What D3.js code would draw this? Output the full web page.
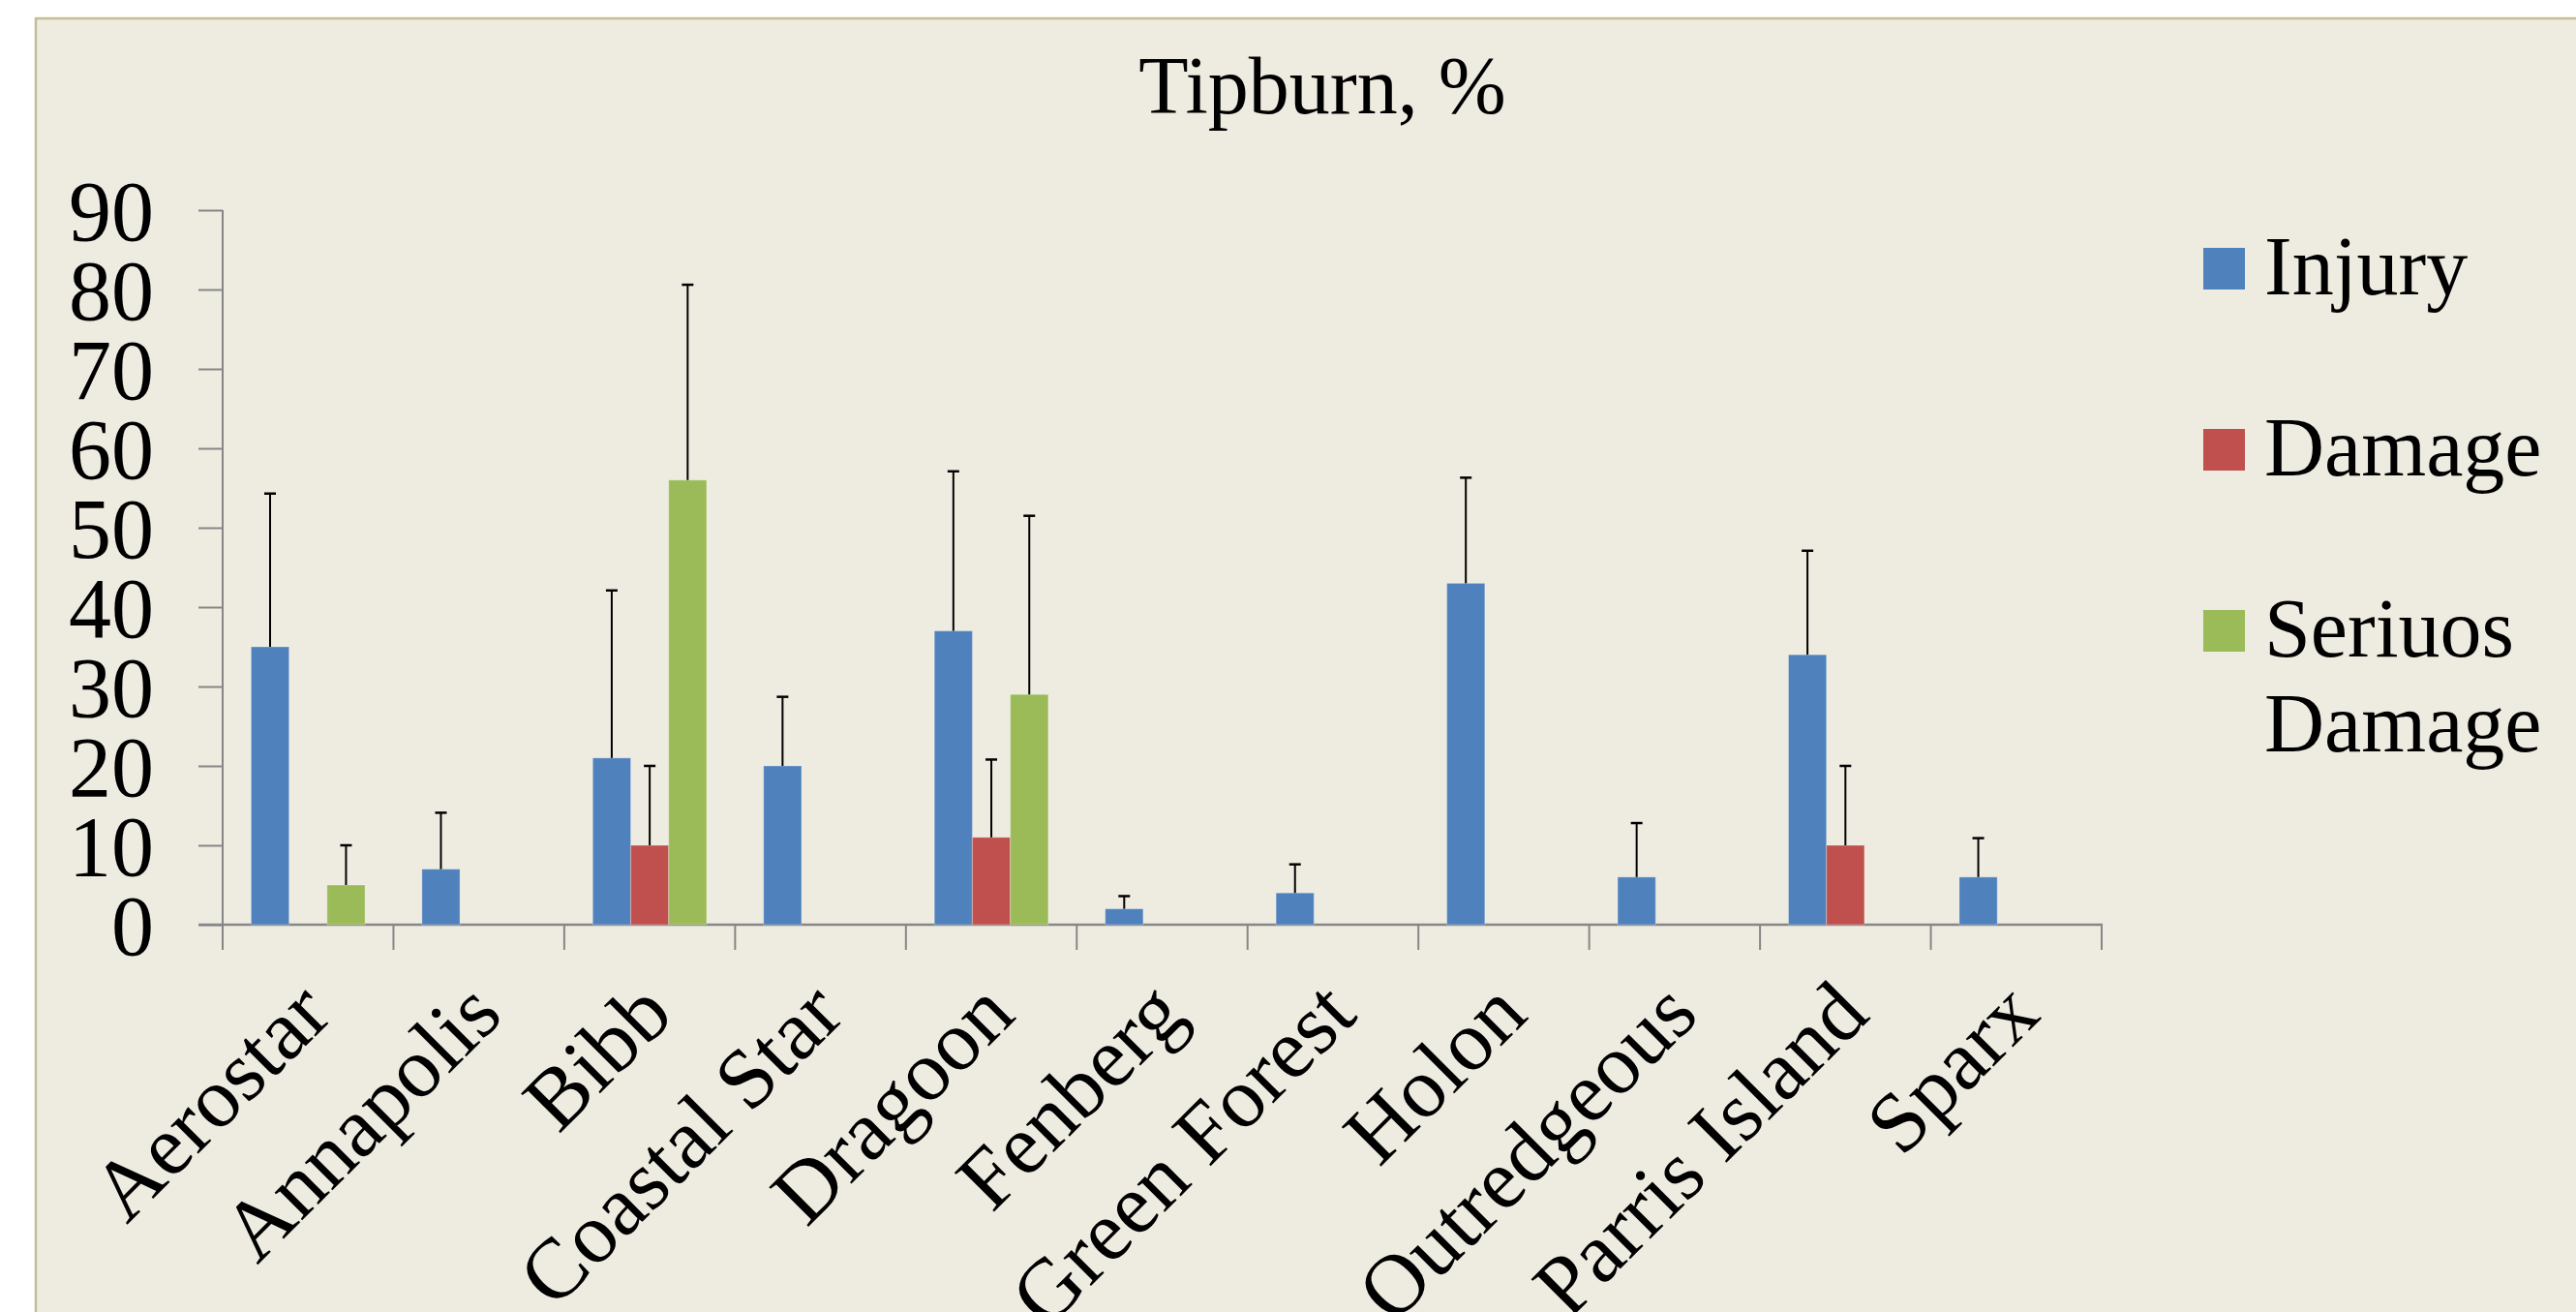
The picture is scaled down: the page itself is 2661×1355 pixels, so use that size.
<!DOCTYPE html>
<html>
<head>
<meta charset="utf-8">
<script src="https://cdn.jsdelivr.net/npm/d3@7"></script>
<style>
  html, body { margin: 0; padding: 0; background: #ffffff; }
  svg { display: block; }
  text { font-family: "Liberation Serif", "Times New Roman", "DejaVu Serif", serif; fill: #000; }
</style>
</head>
<body>
<svg id="chart" width="2661" height="1355"></svg>
<script>
// ---- data ----
const categories = ["Aerostar", "Annapolis", "Bibb", "Coastal Star", "Dragoon", "Fenberg",
                    "Green Forest", "Holon", "Outredgeous", "Parris Island", "Sparx"];
const seriesNames = ["Injury", "Damage", "Seriuos Damage"];
const injury      = [35, 7, 21, 20, 37, 2, 4, 43, 6, 34, 6];
const injuryErr   = [19.3, 7.1, 21.1, 8.7, 20.1, 1.6, 3.6, 13.3, 6.8, 13.1, 4.9];
const damage      = [0, 0, 10, 0, 11, 0, 0, 0, 0, 10, 0];
const damageErr   = [0, 0, 10, 0, 9.8, 0, 0, 0, 0, 10, 0];
const serious     = [5, 0, 56, 0, 29, 0, 0, 0, 0, 0, 0];
const seriousErr  = [5, 0, 24.6, 0, 22.5, 0, 0, 0, 0, 0, 0];
const yTicks      = [0, 10, 20, 30, 40, 50, 60, 70, 80, 90];
const title       = "Tipburn, %";
const colors      = ["#4f81bd", "#c0504d", "#9bbb59"];

const values = [injury, damage, serious];
const errors = [injuryErr, damageErr, seriousErr];

// ---- layout ----
const svg = d3.select("#chart");
const W = 2661, H = 1355;

// chart area frame
svg.append("rect").attr("x", 37).attr("y", 19).attr("width", W).attr("height", H)
  .attr("fill", "#eeece1").attr("stroke", "#c4bd97").attr("stroke-width", 2.5);

const y = d3.scaleLinear().domain([0, 90]).range([955, 217]);
const x = d3.scaleBand().domain(categories).range([230, 2171]).padding(0);
const x1 = d3.scaleBand().domain(seriesNames).range([0, x.bandwidth()])
  .paddingInner(0).paddingOuter(0.75);

// title
svg.append("text").attr("x", 1366).attr("y", 117).attr("text-anchor", "middle")
  .attr("font-size", 84).text(title);

// y axis
const yAxis = d3.axisLeft(y).tickValues(yTicks).tickSize(25).tickSizeOuter(0).tickPadding(46);
const gy = svg.append("g").attr("transform", "translate(230,0)").call(yAxis);
gy.select(".domain").remove();
gy.selectAll(".tick line").attr("stroke", "#868686").attr("stroke-width", 2);
gy.selectAll(".tick text").attr("font-size", 88).attr("dy", null)
  .attr("font-family", "'Liberation Serif', 'Times New Roman', serif")
  .attr("fill", "#000").attr("y", 30);

// axis lines
svg.append("line").attr("x1", 230).attr("x2", 230).attr("y1", y(90)).attr("y2", 981)
  .attr("stroke", "#868686").attr("stroke-width", 2);
svg.append("line").attr("x1", 205).attr("x2", 2172).attr("y1", y(0)).attr("y2", y(0))
  .attr("stroke", "#868686").attr("stroke-width", 2.5);

// category boundary ticks
const bounds = categories.map(c => x(c)).concat([x.range()[1]]);
svg.append("g").selectAll("line").data(bounds).join("line")
  .attr("x1", d => d).attr("x2", d => d).attr("y1", y(0)).attr("y2", 981)
  .attr("stroke", "#868686").attr("stroke-width", 2);

// bars
const barData = [];
categories.forEach((c, i) => {
  seriesNames.forEach((s, j) => {
    barData.push({ c, s, j, v: values[j][i], e: errors[j][i] });
  });
});
const shown = barData.filter(d => d.v > 0);

svg.append("g").selectAll("rect").data(shown).join("rect")
  .attr("x", d => x(d.c) + x1(d.s))
  .attr("y", d => y(d.v))
  .attr("width", x1.bandwidth())
  .attr("height", d => y(0) - y(d.v))
  .attr("fill", d => colors[d.j])
  .attr("stroke", "rgba(255,255,255,0.25)").attr("stroke-width", 1.2);

// error bars (plus only)
const eb = svg.append("g").selectAll("g").data(shown.filter(d => d.e > 0)).join("g");
eb.append("line")
  .attr("x1", d => x(d.c) + x1(d.s) + x1.bandwidth() / 2)
  .attr("x2", d => x(d.c) + x1(d.s) + x1.bandwidth() / 2)
  .attr("y1", d => y(d.v)).attr("y2", d => y(d.v + d.e))
  .attr("stroke", "#000").attr("stroke-width", 2);
eb.append("line")
  .attr("x1", d => x(d.c) + x1(d.s) + x1.bandwidth() / 2 - 6)
  .attr("x2", d => x(d.c) + x1(d.s) + x1.bandwidth() / 2 + 6)
  .attr("y1", d => y(d.v + d.e)).attr("y2", d => y(d.v + d.e))
  .attr("stroke", "#000").attr("stroke-width", 2.5);

// category labels
svg.append("g").selectAll("text").data(categories).join("text")
  .attr("transform", d => `translate(${x(d) + x.bandwidth() / 2 + 27},1051) rotate(-45)`)
  .attr("text-anchor", "end").attr("font-size", 88).text(d => d);

// legend
const legendItems = [
  { name: "Injury", lines: ["Injury"], top: 256 },
  { name: "Damage", lines: ["Damage"], top: 443 },
  { name: "Seriuos Damage", lines: ["Seriuos", "Damage"], top: 630 }
];
const lg = svg.append("g").selectAll("g").data(legendItems).join("g");
lg.append("rect").attr("x", 2276).attr("y", d => d.top).attr("width", 43).attr("height", 43)
  .attr("fill", (d, i) => colors[i]);
lg.each(function (d) {
  const t = d3.select(this).append("text").attr("font-size", 86)
    .attr("x", 2339).attr("y", d.top + 48);
  d.lines.forEach((ln, k) => {
    t.append("tspan").attr("x", 2339).attr("y", d.top + 48 + k * 98).text(ln);
  });
});
</script>
</body>
</html>
